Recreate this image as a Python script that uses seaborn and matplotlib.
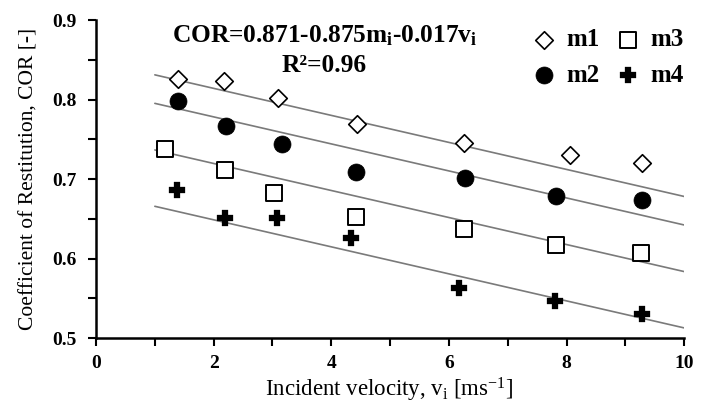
import matplotlib
matplotlib.use("Agg")
import matplotlib.pyplot as plt
import seaborn as sns
import numpy as np
import pandas as pd

# ---- data ----
series = ["m1", "m2", "m3", "m4"]
v_m1 = [1.39, 2.18, 3.10, 4.43, 6.25, 8.06, 9.28]
cor_m1 = [0.826, 0.823, 0.802, 0.769, 0.745, 0.730, 0.720]
v_m2 = [1.40, 2.21, 3.16, 4.42, 6.28, 7.82, 9.29]
cor_m2 = [0.798, 0.767, 0.744, 0.709, 0.701, 0.679, 0.674]
v_m3 = [1.17, 2.19, 3.03, 4.42, 6.26, 7.82, 9.27]
cor_m3 = [0.738, 0.711, 0.682, 0.653, 0.637, 0.617, 0.607]
v_m4 = [1.38, 2.19, 3.08, 4.34, 6.17, 7.81, 9.29]
cor_m4 = [0.687, 0.651, 0.651, 0.626, 0.563, 0.547, 0.531]
# regression: COR = 0.871 - 0.875 m - 0.017 v
masses = [0.026, 0.067, 0.134, 0.215]
fit_c0, fit_cm, fit_cv = 0.871, 0.875, 0.017
fit_v = [1.0, 10.0]
x_ticks = [0, 2, 4, 6, 8, 10]
y_ticks = [0.5, 0.6, 0.7, 0.8, 0.9]

sns.set_theme(style="ticks")
plt.rcParams["font.family"] = ["Liberation Serif", "DejaVu Serif"]
plt.rcParams["mathtext.fontset"] = "custom"
plt.rcParams["mathtext.rm"] = "Liberation Serif"
plt.rcParams["mathtext.it"] = "Liberation Serif:italic"
plt.rcParams["mathtext.bf"] = "Liberation Serif:bold"
for k in ["text.color", "axes.labelcolor", "xtick.color", "ytick.color", "axes.edgecolor"]:
    plt.rcParams[k] = "black"

fig = plt.figure(figsize=(7.01, 4.04), dpi=100)
ax = fig.add_axes([0.137, 0.163, 0.839, 0.787])

# regression lines
for m in masses:
    ys = [fit_c0 - fit_cm * m - fit_cv * v for v in fit_v]
    sns.lineplot(x=fit_v, y=ys, ax=ax, color="#7a7a7a", lw=1.2, legend=False)

vs = [v_m1, v_m2, v_m3, v_m4]
cs = [cor_m1, cor_m2, cor_m3, cor_m4]
styles = [
    dict(marker="D", s=80, facecolor="white", edgecolor="black", linewidth=1.2),
    dict(marker="o", s=150, facecolor="black", edgecolor="black", linewidth=0.5),
    dict(marker="s", s=140, facecolor="white", edgecolor="black", linewidth=1.4),
    dict(marker="P", s=120, facecolor="black", edgecolor="black", linewidth=0.2),
]
for name, v, c, st in zip(series, vs, cs, styles):
    sns.scatterplot(x=v, y=c, ax=ax, label=name, zorder=3, **st)

ax.set_xlim(0, 10)
ax.set_ylim(0.5, 0.9)
ax.set_xticks(x_ticks)
ax.set_xticklabels([str(t) for t in x_ticks])
ax.set_yticks(y_ticks)
ax.set_yticklabels([f"{t:.1f}" for t in y_ticks])
ax.set_xticks(np.arange(0, 10.01, 1), minor=True)
ax.set_yticks(np.arange(0.5, 0.901, 0.05), minor=True)
ax.tick_params(which="both", direction="out", length=6, width=1.5, color="black")
ax.tick_params(axis="x", which="major", pad=6)
ax.tick_params(axis="y", which="major", pad=8)
ax.tick_params(labelsize=14)
for lab in ax.get_xticklabels() + ax.get_yticklabels():
    lab.set_fontweight("bold")
for sp in ["top", "right"]:
    ax.spines[sp].set_visible(False)
for sp in ["left", "bottom"]:
    ax.spines[sp].set_linewidth(1.8)
    ax.spines[sp].set_color("black")

ax.set_xlabel("Incident velocity, v$_\\mathrm{i}$ [ms$^\\mathrm{-1}$]", fontsize=16.5)
ax.xaxis.set_label_coords(0.498, -0.118)
ax.set_ylabel("Coefficient of Restitution, COR [-]", fontsize=15.5)
ax.yaxis.set_label_coords(-0.097, 0.5)

ax.text(0.388, 0.99, "COR=0.871-0.875m$_\\mathbf{i}$-0.017v$_\\mathbf{i}$", transform=ax.transAxes,
        ha="center", va="top", fontsize=18.3, fontweight="bold")
ax.text(0.388, 0.895, "R²=0.96", transform=ax.transAxes,
        ha="center", va="top", fontsize=18.3, fontweight="bold")

leg = ax.legend(ncol=2, frameon=False, loc="upper right", bbox_to_anchor=(1.037, 1.045),
                prop={"weight": "bold", "size": 18}, handletextpad=0.35,
                columnspacing=0.55, labelspacing=0.5, handlelength=1.1)

fig.savefig("out.png", dpi=100)
